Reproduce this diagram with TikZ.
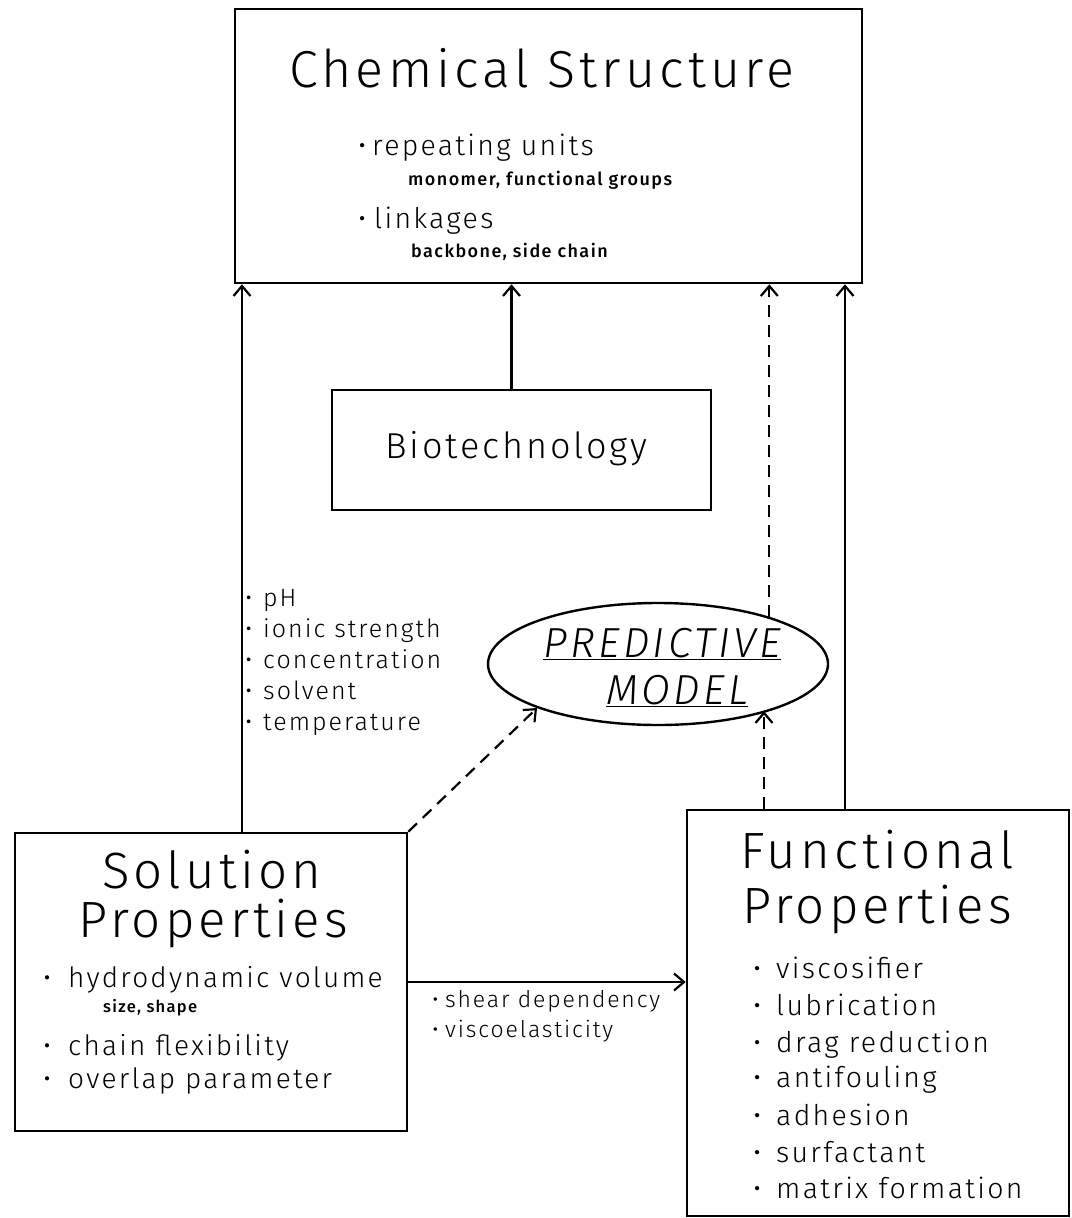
\documentclass[tikz,border=0pt]{standalone}
\usepackage{fontspec}
\usetikzlibrary{arrows.meta}
\usetikzlibrary{shapes.geometric}
\newfontfamily\plotfont{Fira Sans}[UprightFont=* Light, ItalicFont=* Light Italic, BoldFont=* Medium, LetterSpace=8]
\newcommand{\ptsize}[1]{\fontsize{#1}{#1}\selectfont}
\newcommand{\blt}[1]{\makebox[#1][l]{\textbullet}}

\begin{document}
\begin{tikzpicture}[x=1pt, y=-1pt,
 box/.style={draw, line width=2.6pt, inner sep=0pt},
 txt/.style={anchor=base west, inner sep=0pt},
 arr/.style={line width=2.2pt, -{Straight Barb[length=10pt,width=17pt]}},
 dasharr/.style={arr, dash pattern=on 12pt off 8pt}]
    \useasboundingbox (0,0) rectangle (1071,1218);
    % Caixas:
    \node[box, minimum width=627pt, minimum height=274pt] (chem) at (548.5,146) {};
    \node[box, minimum width=379pt, minimum height=120pt] (bio) at (521.5,450) {};
    \node[box, minimum width=392pt, minimum height=298pt] (solp) at (211,982) {};
    \node[box, minimum width=382pt, minimum height=406pt] (func) at (878,1013) {};
    \node[ellipse, draw, line width=2.4pt, inner sep=0pt, minimum width=340pt,
        minimum height=122pt] (model) at (658,664) {};

    % Textos da estrutura quimica
    \node[txt, font=\plotfont\ptsize{52}] (chemtitle) at (289,87) {Chemical Structure};
    \node[txt, font=\plotfont\ptsize{28.5}] (repunits) at (358,155) {\blt{14pt}repeating units};
    \node[txt, font=\plotfont\bfseries\ptsize{18}] (repsub) at (408,185) {monomer, functional groups};
    \node[txt, font=\plotfont\ptsize{28.5}] (links) at (358,228) {\blt{16pt}linkages};
    \node[txt, font=\plotfont\bfseries\ptsize{18}] (linksub) at (411,257) {backbone, side chain};

    \node[txt, font=\plotfont\ptsize{36}] (biotitle) at (385,458) {Biotechnology};

    % condicoes da solucao
    \node[txt, font=\plotfont\ptsize{25}] (ph) at (245,606) {\blt{18pt}pH};
    \node[txt, font=\plotfont\ptsize{25}] (ionic) at (245,637) {\blt{18pt}ionic strength};
    \node[txt, font=\plotfont\ptsize{25}] (conc) at (245,668) {\blt{18pt}concentration};
    \node[txt, font=\plotfont\ptsize{25}] (solv) at (245,699) {\blt{18pt}solvent};
    \node[txt, font=\plotfont\ptsize{25}] (temp) at (245,730) {\blt{18pt}temperature};

    % modelo
    \node[txt, font=\plotfont\itshape\ptsize{42}] (pred) at (543,657) {\underline{PREDICTIVE}};
    \node[txt, font=\plotfont\itshape\ptsize{42}] (mod) at (606,704) {\underline{MODEL}};

    % propriedades em solucao
    \node[txt, font=\plotfont\ptsize{51}] (soltitle) at (102,888) {Solution};
    \node[txt, font=\plotfont\ptsize{51}] (solprop) at (78,937) {Properties};
    \node[txt, font=\plotfont\ptsize{28}] (hydro) at (43,987) {\blt{25pt}hydrodynamic volume};
    \node[txt, font=\plotfont\bfseries\ptsize{16.5}] (hydsub) at (103,1012) {size, shape};
    \node[txt, font=\plotfont\ptsize{28}] (chain) at (43,1055) {\blt{25pt}chain flexibility};
    \node[txt, font=\plotfont\ptsize{28}] (overlap) at (43,1088) {\blt{25pt}overlap parameter};

    \node[txt, font=\plotfont\ptsize{23}] (shear) at (432,1007) {\blt{13pt}shear dependency};
    \node[txt, font=\plotfont\ptsize{23}] (visco) at (432,1037) {\blt{13pt}viscoelasticity};

    % propriedades funcionais
    \node[txt, font=\plotfont\ptsize{51}] (functitle) at (740,868) {Functional};
    \node[txt, font=\plotfont\ptsize{51}] (funcprop) at (742,923) {Properties};
    \node[txt, font=\plotfont\ptsize{28.5}] (fa) at (753,978) {\blt{23pt}viscosifier};
    \node[txt, font=\plotfont\ptsize{28.5}] (fb) at (753,1015) {\blt{23pt}lubrication};
    \node[txt, font=\plotfont\ptsize{28.5}] (fc) at (753,1052) {\blt{23pt}drag reduction};
    \node[txt, font=\plotfont\ptsize{28.5}] (fd) at (753,1087) {\blt{23pt}antifouling};
    \node[txt, font=\plotfont\ptsize{28.5}] (fe) at (753,1125) {\blt{23pt}adhesion};
    \node[txt, font=\plotfont\ptsize{28.5}] (ff) at (753,1162) {\blt{23pt}surfactant};
    \node[txt, font=\plotfont\ptsize{28.5}] (fg) at (753,1198) {\blt{23pt}matrix formation};

    % Setas:
    \draw[arr] ([xshift=31pt]solp.north) -- ([xshift=31pt]solp.north |- chem.south);
    \draw[arr] ([xshift=-10pt]bio.north) -- ([xshift=-10pt]bio.north |- chem.south);
    \draw[dasharr] (model.23) -- (model.23 |- chem.south);
    \draw[dasharr] ([xshift=-114pt]func.north) -- ([xshift=-114pt]func.north |- model.-23);
    \draw[arr] ([xshift=-33pt]func.north) -- ([xshift=-33pt]func.north |- chem.south);
    \draw[dasharr] (solp.north east) -- (model.200);
    \draw[arr] (solp.east) -- (solp.east -| func.west);
\end{tikzpicture}
\end{document}
